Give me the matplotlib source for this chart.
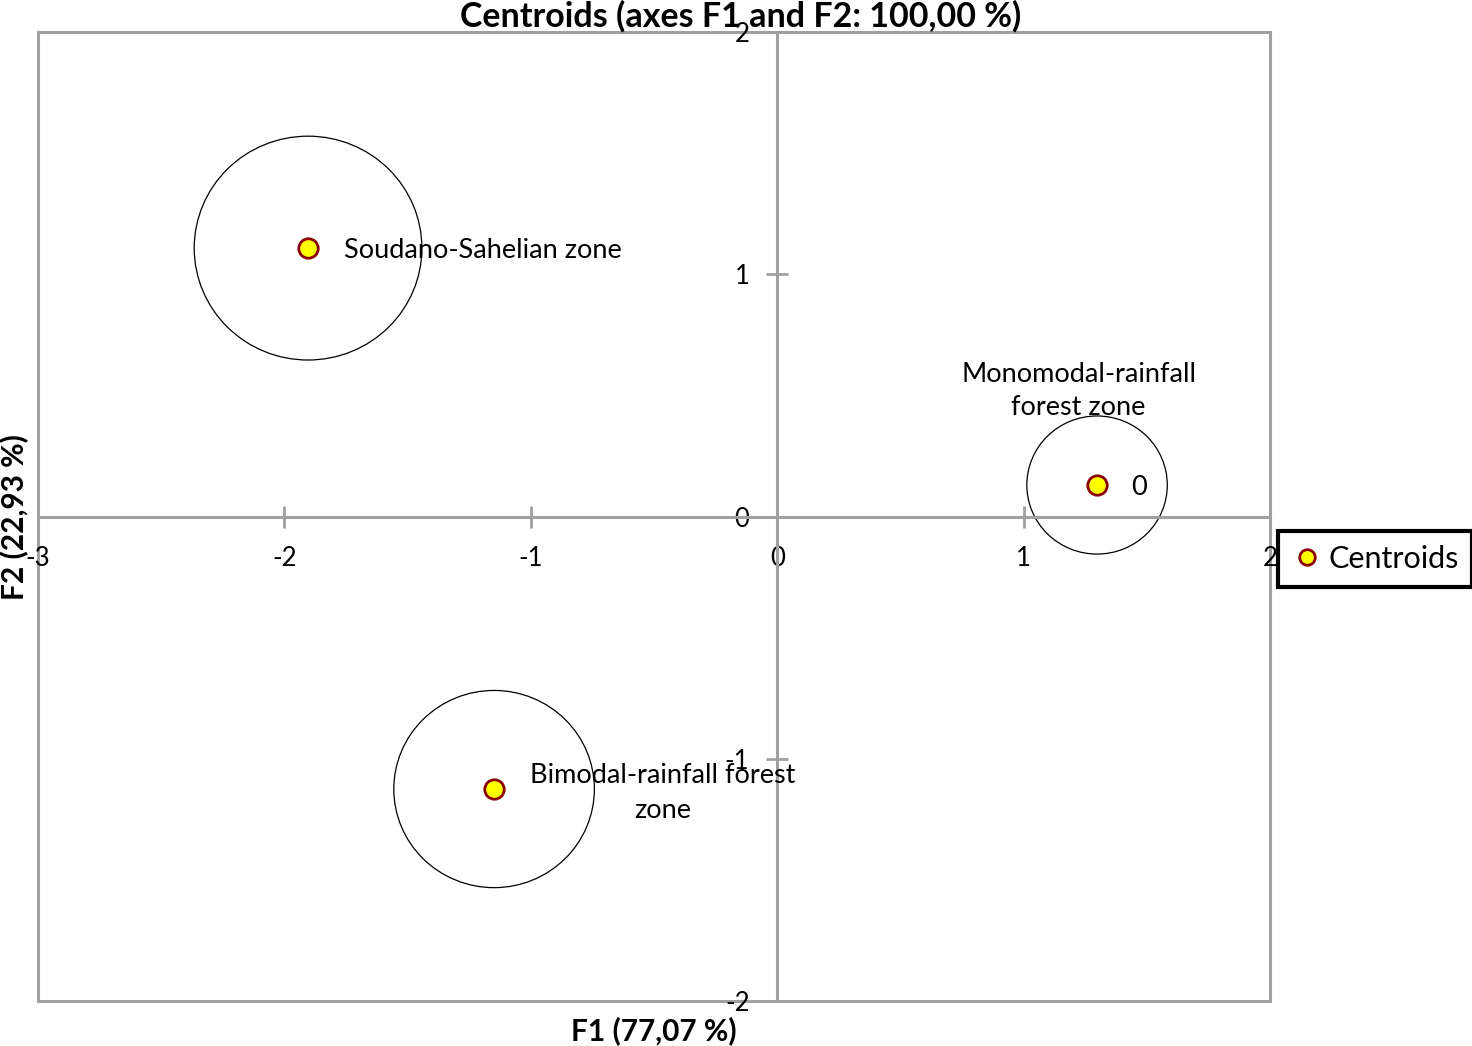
import matplotlib
matplotlib.use('Agg')
import matplotlib.pyplot as plt
from matplotlib.patches import Ellipse

plt.rcParams['font.family'] = ['Lato', 'DejaVu Sans']
plt.rcParams['axes.unicode_minus'] = False

# centroid data
zones = ['Soudano-Sahelian zone', 'Bimodal-rainfall forest\nzone', 'Monomodal-rainfall\nforest zone']
f1 = [-1.904, -1.149, 1.298]
f2 = [1.108, -1.125, 0.130]
radii = [0.462, 0.407, 0.285]
extra_labels = ['', '', '0']

x_ticks = [-3, -2, -1, 0, 1, 2]
y_ticks = [-2, -1, 0, 1, 2]

grey = '#a0a0a0'

fig = plt.figure(figsize=(14.72, 10.46), dpi=100)
ax = fig.add_axes([0.0258, 0.0430, 0.8370, 0.9264])
ax.set_xlim(-3, 2)
ax.set_ylim(-2, 2)

# frame
ax.patch.set_edgecolor(grey)
ax.patch.set_linewidth(2.2)
for s in ['top', 'right']:
    ax.spines[s].set_visible(False)
ax.spines['left'].set_position(('data', 0))
ax.spines['bottom'].set_position(('data', 0))
for s in ['left', 'bottom']:
    ax.spines[s].set_color(grey)
    ax.spines[s].set_linewidth(2.2)

ax.set_xticks(x_ticks)
ax.set_yticks(y_ticks)
ax.tick_params(axis='both', direction='inout', length=16, width=2, color=grey,
               labelsize=18.5)
ax.tick_params(axis='x', pad=13)
ax.tick_params(axis='y', pad=12)

# circles around centroids
for x, y, r in zip(f1, f2, radii):
    ax.add_patch(Ellipse((x, y), 2 * r, 2 * r, fill=False, edgecolor='black', linewidth=0.9))

ax.plot(f1, f2, 'o', markersize=14, markerfacecolor='#ffff00', markeredgecolor='#8b0000',
        markeredgewidth=2, label='Centroids', zorder=5, clip_on=False)

# labels
ax.text(f1[0] + 0.145, f2[0] - 0.01, zones[0], fontsize=19.5, va='center', ha='left')
ax.text(f1[1] + 0.685, f2[1] - 0.015, zones[1], fontsize=19.5, va='center', ha='center',
        linespacing=1.5)
ax.text(f1[2] - 0.075, f2[2] + 0.39, zones[2], fontsize=19.5, va='center', ha='center',
        linespacing=1.4)
ax.text(f1[2] + 0.14, f2[2] - 0.01, extra_labels[2], fontsize=19.5, va='center', ha='left')

fig.text(0.503, 0.984, 'Centroids (axes F1 and F2: 100,00 %)', fontsize=24.5,
         fontweight='bold', ha='center', va='center')
fig.text(0.4443, 0.015, 'F1 (77,07 %)', fontsize=21.5, fontweight='bold', ha='center', va='center')
fig.text(0.0095, 0.506, 'F2 (22,93 %)', fontsize=21.5, fontweight='bold', ha='center',
         va='center', rotation=90)

leg = ax.legend(loc='center', bbox_to_anchor=(0.9341, 0.4656), bbox_transform=fig.transFigure,
                fontsize=22, frameon=True, fancybox=False, framealpha=1, handletextpad=0.2,
                handlelength=1.0, borderpad=0.45, markerscale=0.8)
leg.get_frame().set_edgecolor('black')
leg.get_frame().set_linewidth(3)

fig.savefig('out.png', dpi=100)
